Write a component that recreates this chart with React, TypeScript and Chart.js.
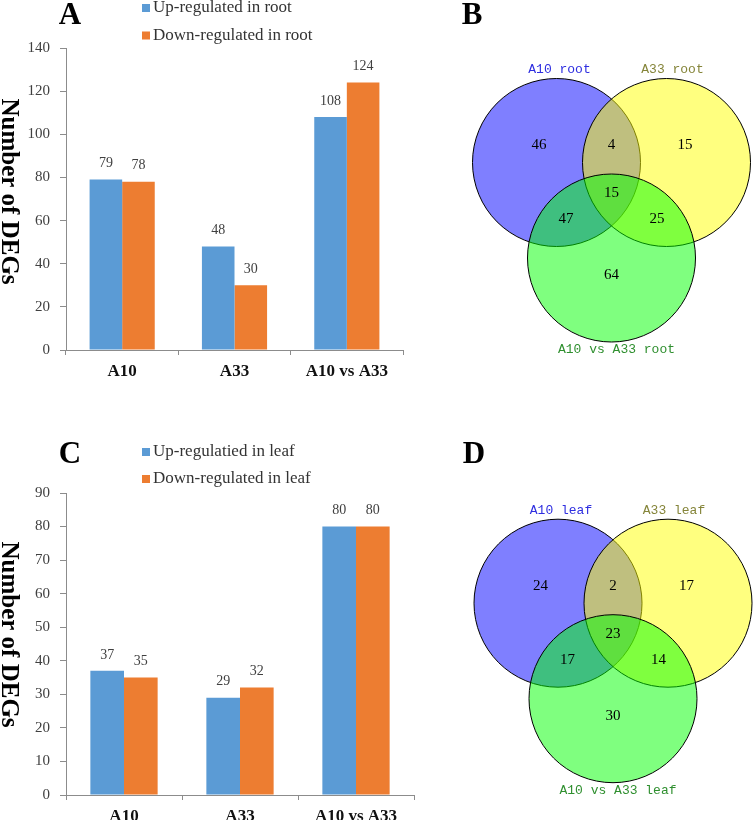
import React, { useEffect, useRef } from "react";
import { Chart, registerables } from "chart.js";

Chart.register(...registerables);

// ---------- data ----------
const CATEGORIES = ["A10", "A33", "A10 vs A33"];
const ROOT_UP = [79, 48, 108];
const ROOT_DOWN = [78, 30, 124];
const LEAF_UP = [37, 29, 80];
const LEAF_DOWN = [35, 32, 80];
const ROOT_LEGEND = ["Up-regulated in root", "Down-regulated in root"];
const LEAF_LEGEND = ["Up-regulatied in leaf", "Down-regulated in leaf"];
const ROOT_Y_MAX = 140;
const ROOT_Y_STEP = 20;
const LEAF_Y_MAX = 90;
const LEAF_Y_STEP = 10;
const Y_TITLE = "Number of DEGs";

// Venn: counts order = [only set1, only set2, only set3, 1∩2, 1∩3, 2∩3, 1∩2∩3]
const VENN_ROOT_SETS = ["A10 root", "A33 root", "A10 vs A33 root"];
const VENN_ROOT_COUNTS = [46, 15, 64, 4, 47, 25, 15];
const VENN_LEAF_SETS = ["A10 leaf", "A33 leaf", "A10 vs A33 leaf"];
const VENN_LEAF_COUNTS = [24, 17, 30, 2, 17, 14, 23];

// ---------- styles / layout ----------
const SERIF = '"Liberation Serif", "Times New Roman", serif';
const MONO = '"Liberation Mono", "Courier New", monospace';
const BLUE = "#5b9bd5";
const ORANGE = "#ed7d31";
const AXIS = "#8c8c8c";

const VENN_HALF_SEP = 55;
const VENN_DROP = 95.5;
const VENN_R = 84;
const VENN_FILLS = ["rgba(0,0,255,0.5)", "rgba(255,255,0,0.5)", "rgba(0,255,0,0.5)"];
const VENN_LABEL_COLORS = ["#2e2ee0", "#85853a", "#2f8f2f"];
const REGION_OFFSETS = [
  [-72.5, -17.5],
  [73.5, -17.5],
  [0, 113],
  [0, -17.5],
  [-45.5, 57],
  [45.5, 57],
  [0, 31],
];
const SET_LABEL_OFFSETS = [
  [-52, -93],
  [61, -93],
  [5, 187.5],
];

type Area = { left: number; right: number; top: number; bottom: number };

type BarProps = {
  left: number;
  top: number;
  width: number;
  height: number;
  area: Area;
  xAxisH: number;
  letter: string;
  letterPos: [number, number];
  legendYs: [number, number];
  titleY: number;
  up: number[];
  down: number[];
  legend: string[];
  yMax: number;
  yStep: number;
};

function BarPanel(p: BarProps) {
  const ref = useRef<HTMLCanvasElement>(null);
  useEffect(() => {
    const canvas = ref.current!;
    const overlay = {
      id: "overlay",
      afterDatasetsDraw(chart: any) {
        const ctx = chart.ctx;
        ctx.save();
        ctx.font = `14px ${SERIF}`;
        ctx.fillStyle = "#404040";
        ctx.textAlign = "center";
        ctx.textBaseline = "middle";
        chart.data.datasets.forEach((ds: any, i: number) => {
          chart.getDatasetMeta(i).data.forEach((bar: any, j: number) => {
            ctx.fillText(String(ds.data[j]), bar.x, bar.y - 16);
          });
        });
        ctx.restore();
      },
      afterDraw(chart: any) {
        const ctx = chart.ctx;
        ctx.save();
        // panel letter
        ctx.font = `bold 31px ${SERIF}`;
        ctx.fillStyle = "#000";
        ctx.textAlign = "center";
        ctx.textBaseline = "middle";
        ctx.fillText(p.letter, p.letterPos[0], p.letterPos[1]);
        // legend
        ctx.font = `17px ${SERIF}`;
        ctx.textAlign = "left";
        chart.data.datasets.forEach((ds: any, i: number) => {
          const y = p.legendYs[i];
          ctx.fillStyle = ds.backgroundColor;
          ctx.fillRect(142, y - 4, 8, 8);
          ctx.fillStyle = "#333";
          ctx.fillText(ds.label, 153, y);
        });
        // y title (reads top to bottom)
        ctx.translate(1.5, p.titleY);
        ctx.rotate(Math.PI / 2);
        ctx.font = `bold 25px ${SERIF}`;
        ctx.fillStyle = "#000";
        ctx.textAlign = "center";
        ctx.textBaseline = "alphabetic";
        ctx.fillText(Y_TITLE, 0, 0);
        ctx.restore();
      },
    };
    const chart = new Chart(canvas, {
      type: "bar",
      data: {
        labels: CATEGORIES,
        datasets: [
          { label: p.legend[0], data: p.up, backgroundColor: BLUE, borderWidth: 0 },
          { label: p.legend[1], data: p.down, backgroundColor: ORANGE, borderWidth: 0 },
        ],
      },
      options: {
        responsive: false,
        animation: false,
        devicePixelRatio: 1,
        events: [],
        datasets: { bar: { categoryPercentage: 0.58, barPercentage: 1 } },
        layout: {
          autoPadding: false,
          padding: {
            left: 0,
            top: p.area.top,
            right: p.width - p.area.right,
            bottom: p.height - p.area.bottom - p.xAxisH,
          },
        },
        plugins: { legend: { display: false }, tooltip: { enabled: false }, title: { display: false } },
        scales: {
          x: {
            grid: { display: true, drawOnChartArea: false, offset: true, tickLength: 5, color: AXIS },
            border: { display: true, color: AXIS, width: 1 },
            ticks: { font: { family: SERIF, size: 17, weight: "bold" }, color: "#111", padding: 6, maxRotation: 0 },
            afterFit: (s: any) => {
              s.height = p.xAxisH;
            },
          },
          y: {
            min: 0,
            max: p.yMax,
            grid: { display: true, drawOnChartArea: false, tickLength: 6, color: AXIS },
            border: { display: true, color: AXIS, width: 1 },
            ticks: { stepSize: p.yStep, font: { family: SERIF, size: 15 }, color: "#404040", padding: 10 },
            afterFit: (s: any) => {
              s.width = p.area.left;
            },
          },
        },
      } as any,
      plugins: [overlay],
    });
    return () => chart.destroy();
  }, []);
  return (
    <canvas
      ref={ref}
      width={p.width}
      height={p.height}
      style={{ position: "absolute", left: p.left, top: p.top, width: p.width, height: p.height }}
    />
  );
}

type VennProps = {
  left: number;
  top: number;
  width: number;
  height: number;
  center: [number, number];
  letter: string;
  letterPos: [number, number];
  sets: string[];
  counts: number[];
};

function VennPanel(p: VennProps) {
  const ref = useRef<HTMLCanvasElement>(null);
  useEffect(() => {
    const canvas = ref.current!;
    const [cx, cy] = p.center;
    const circles = [
      { x: cx - VENN_HALF_SEP, y: cy, r: VENN_R },
      { x: cx + VENN_HALF_SEP, y: cy, r: VENN_R },
      { x: cx, y: cy + VENN_DROP, r: VENN_R },
    ];
    const overlay = {
      id: "vennText",
      afterDatasetsDraw(chart: any) {
        const ctx = chart.ctx;
        const xs = chart.scales.x;
        const ys = chart.scales.y;
        ctx.save();
        ctx.textAlign = "center";
        ctx.textBaseline = "middle";
        ctx.font = `15px ${SERIF}`;
        ctx.fillStyle = "#000";
        p.counts.forEach((c, i) => {
          const [dx, dy] = REGION_OFFSETS[i];
          ctx.fillText(String(c), xs.getPixelForValue(cx + dx), ys.getPixelForValue(cy + dy));
        });
        ctx.font = `13px ${MONO}`;
        p.sets.forEach((s, i) => {
          const [dx, dy] = SET_LABEL_OFFSETS[i];
          ctx.fillStyle = VENN_LABEL_COLORS[i];
          ctx.fillText(s, xs.getPixelForValue(cx + dx), ys.getPixelForValue(cy + dy));
        });
        ctx.font = `bold 31px ${SERIF}`;
        ctx.fillStyle = "#000";
        ctx.fillText(p.letter, p.letterPos[0], p.letterPos[1]);
        ctx.restore();
      },
    };
    const chart = new Chart(canvas, {
      type: "bubble",
      data: {
        datasets: [
          {
            label: "venn",
            data: circles,
            backgroundColor: VENN_FILLS,
            borderColor: "#000",
            borderWidth: 1,
            clip: false,
          },
        ],
      },
      options: {
        responsive: false,
        animation: false,
        devicePixelRatio: 1,
        events: [],
        layout: { autoPadding: false, padding: 0 },
        plugins: { legend: { display: false }, tooltip: { enabled: false } },
        scales: {
          x: { type: "linear", min: 0, max: p.width, display: false },
          y: { type: "linear", min: 0, max: p.height, reverse: true, display: false },
        },
      } as any,
      plugins: [overlay],
    });
    return () => chart.destroy();
  }, []);
  return (
    <canvas
      ref={ref}
      width={p.width}
      height={p.height}
      style={{ position: "absolute", left: p.left, top: p.top, width: p.width, height: p.height }}
    />
  );
}

export default function App() {
  return (
    <div style={{ position: "absolute", left: 0, top: 0, width: 753, height: 820, background: "#fff", overflow: "hidden" }}>
      <BarPanel
        left={0}
        top={0}
        width={410}
        height={400}
        area={{ left: 66, right: 403, top: 48, bottom: 350 }}
        xAxisH={40}
        letter="A"
        letterPos={[70, 16]}
        legendYs={[8, 35.5]}
        titleY={191.5}
        up={ROOT_UP}
        down={ROOT_DOWN}
        legend={ROOT_LEGEND}
        yMax={ROOT_Y_MAX}
        yStep={ROOT_Y_STEP}
      />
      <VennPanel
        left={400}
        top={0}
        width={353}
        height={400}
        center={[211.5, 162.5]}
        letter="B"
        letterPos={[72, 16]}
        sets={VENN_ROOT_SETS}
        counts={VENN_ROOT_COUNTS}
      />
      <BarPanel
        left={0}
        top={400}
        width={420}
        height={420}
        area={{ left: 66, right: 414, top: 93, bottom: 395 }}
        xAxisH={25}
        letter="C"
        letterPos={[70, 55]}
        legendYs={[52, 79]}
        titleY={234.5}
        up={LEAF_UP}
        down={LEAF_DOWN}
        legend={LEAF_LEGEND}
        yMax={LEAF_Y_MAX}
        yStep={LEAF_Y_STEP}
      />
      <VennPanel
        left={400}
        top={400}
        width={353}
        height={420}
        center={[213, 203.2]}
        letter="D"
        letterPos={[74, 55]}
        sets={VENN_LEAF_SETS}
        counts={VENN_LEAF_COUNTS}
      />
    </div>
  );
}
